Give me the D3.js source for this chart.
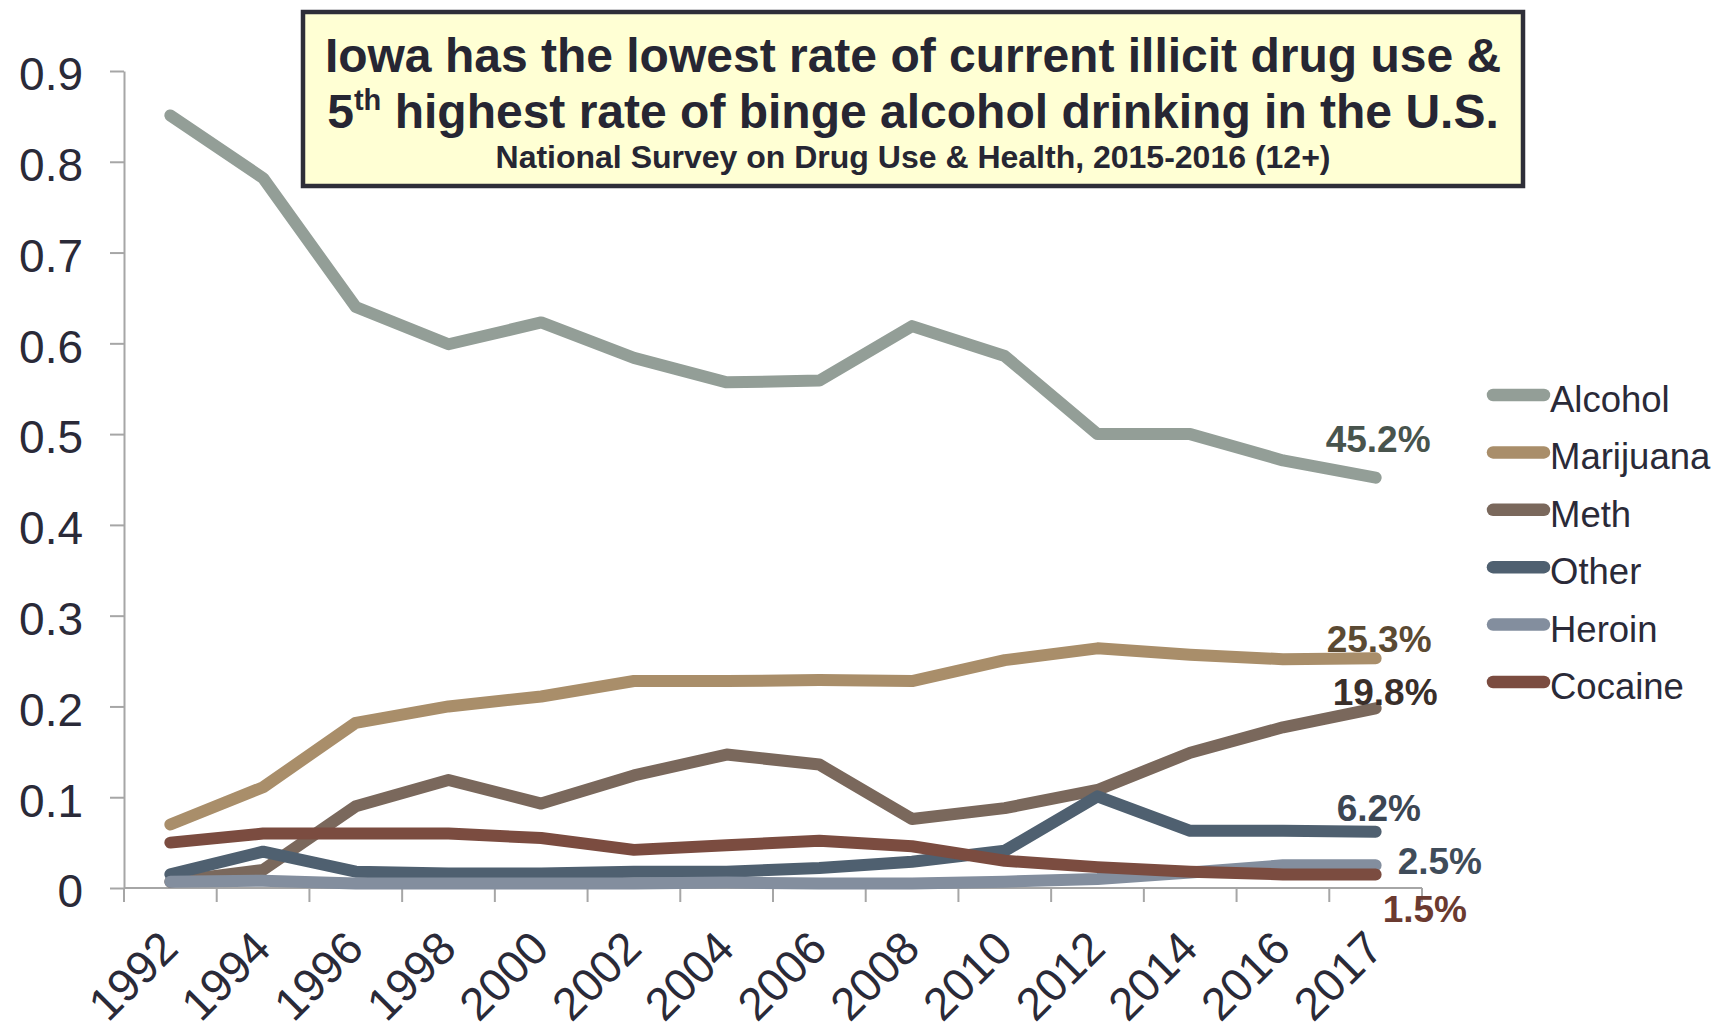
<!DOCTYPE html>
<html>
<head>
<meta charset="utf-8">
<script src="https://cdn.jsdelivr.net/npm/d3@7"></script>
<style>
  body { margin: 0; background: #fff; }
  text { font-family: "Liberation Sans", Arial, sans-serif; }
</style>
</head>
<body>
<script>
/** Data */
const years = ["1992", "1994", "1996", "1998", "2000", "2002", "2004", "2006", "2008", "2010", "2012", "2014", "2016", "2017"];
const seriesNames = ["Alcohol", "Marijuana", "Meth", "Other", "Heroin", "Cocaine"];
const alcohol   = [0.851, 0.782, 0.640, 0.599, 0.623, 0.584, 0.557, 0.559, 0.619, 0.586, 0.500, 0.500, 0.471, 0.452];
const marijuana = [0.070, 0.111, 0.182, 0.200, 0.211, 0.228, 0.228, 0.229, 0.228, 0.251, 0.264, 0.257, 0.252, 0.253];
const meth      = [0.007, 0.020, 0.090, 0.119, 0.093, 0.124, 0.147, 0.136, 0.076, 0.088, 0.108, 0.149, 0.177, 0.198];
const other     = [0.015, 0.040, 0.018, 0.016, 0.016, 0.018, 0.018, 0.022, 0.029, 0.041, 0.101, 0.063, 0.063, 0.062];
const heroin    = [0.007, 0.008, 0.005, 0.005, 0.005, 0.005, 0.006, 0.005, 0.005, 0.007, 0.010, 0.017, 0.025, 0.025];
const cocaine   = [0.050, 0.060, 0.060, 0.060, 0.055, 0.042, 0.047, 0.052, 0.046, 0.030, 0.023, 0.018, 0.015, 0.015];
const endLabels = ["45.2%", "25.3%", "19.8%", "6.2%", "2.5%", "1.5%"];
const yTicks = [0, 0.1, 0.2, 0.3, 0.4, 0.5, 0.6, 0.7, 0.8, 0.9];

/** Styles */
const width = 1715;
const height = 1027;
const lineColors = ["#939e97", "#a98e6a", "#7a685c", "#4f6070", "#838e9e", "#7b4c40"];
const labelColors = ["#48544d", "#5b4a33", "#3a2f2a", "#3c4653", "#3f4c5a", "#6b3a30"];
// label offset from the last point (x, baseline y)
const labelOffsets = [[-50, -26], [-49, -6], [-43, -3], [-39, -11], [22, 9], [7, 48]];
const textColor = "#2a2a38";
const axisColor = "#a6a6a6";

const values = [alcohol, marijuana, meth, other, heroin, cocaine];

const svg = d3.select("body").append("svg")
  .attr("width", width)
  .attr("height", height);

svg.append("rect").attr("width", width).attr("height", height).attr("fill", "#fff");

const x = d3.scaleBand().domain(years).range([124, 1422]).padding(0);
const y = d3.scaleLinear().domain([0, 0.9]).range([888, 71]);
const cx = (yr) => x(yr) + x.bandwidth() / 2;

// y axis
const yAxis = svg.append("g")
  .attr("transform", "translate(124,0)")
  .call(d3.axisLeft(y).tickValues(yTicks).tickSize(14).tickSizeOuter(0).tickPadding(27)
    .tickFormat(d => d === 0 ? "0" : d.toFixed(1)));
yAxis.select(".domain").attr("stroke", axisColor).attr("stroke-width", 2);
yAxis.selectAll(".tick line").attr("stroke", axisColor).attr("stroke-width", 2);
yAxis.selectAll(".tick text")
  .attr("fill", textColor)
  .attr("font-size", "46px")
  .attr("font-family", "Liberation Sans, Arial, sans-serif")
  .attr("dy", "0.41em");

// x axis (ticks between categories)
const xAxis = svg.append("g");
xAxis.append("line")
  .attr("x1", x.range()[0]).attr("x2", x.range()[1])
  .attr("y1", y(0)).attr("y2", y(0))
  .attr("stroke", axisColor).attr("stroke-width", 2);
const tickPos = years.map(yr => x(yr)).concat([x.range()[1]]);
xAxis.selectAll("line.tk")
  .data(tickPos)
  .enter().append("line")
  .attr("class", "tk")
  .attr("x1", d => d).attr("x2", d => d)
  .attr("y1", y(0)).attr("y2", y(0) + 14)
  .attr("stroke", axisColor).attr("stroke-width", 2);
xAxis.selectAll("text")
  .data(years)
  .enter().append("text")
  .attr("transform", d => "translate(" + (cx(d) + 10) + "," + (y(0) + 63) + ") rotate(-45)")
  .attr("text-anchor", "end")
  .attr("font-size", "46px")
  .attr("fill", textColor)
  .text(d => d);

// series lines
const line = d3.line()
  .x((d, i) => cx(years[i]))
  .y(d => y(d));

svg.append("g").selectAll("path")
  .data(values)
  .enter().append("path")
  .attr("d", d => line(d))
  .attr("fill", "none")
  .attr("stroke", (d, i) => lineColors[i])
  .attr("stroke-width", 12)
  .attr("stroke-linecap", "round")
  .attr("stroke-linejoin", "round");

// end labels
const last = years[years.length - 1];
svg.append("g").selectAll("text")
  .data(values)
  .enter().append("text")
  .attr("x", (d, i) => cx(last) + labelOffsets[i][0])
  .attr("y", (d, i) => y(d[d.length - 1]) + labelOffsets[i][1])
  .attr("font-size", "37px")
  .attr("font-weight", "bold")
  .attr("fill", (d, i) => labelColors[i])
  .text((d, i) => endLabels[i]);

// legend
const legend = svg.append("g").attr("transform", "translate(1493,395)");
seriesNames.forEach((name, i) => {
  const g = legend.append("g").attr("transform", "translate(0," + (i * 57.4) + ")");
  g.append("line")
    .attr("x1", 0).attr("x2", 51)
    .attr("stroke", lineColors[i])
    .attr("stroke-width", 12.5)
    .attr("stroke-linecap", "round");
  g.append("text")
    .attr("x", 57).attr("y", 17)
    .attr("font-size", "36.5px")
    .attr("fill", textColor)
    .text(name);
});

// title box
const title = svg.append("g");
title.append("rect")
  .attr("x", 303).attr("y", 12)
  .attr("width", 1220).attr("height", 174)
  .attr("fill", "#ffffd4")
  .attr("stroke", "#2e2e38")
  .attr("stroke-width", 4.5);
title.append("text")
  .attr("x", 913).attr("y", 72)
  .attr("text-anchor", "middle")
  .attr("font-size", "48px").attr("font-weight", "bold")
  .attr("fill", "#262633")
  .text("Iowa has the lowest rate of current illicit drug use &");
const t2 = title.append("text")
  .attr("x", 913).attr("y", 128)
  .attr("text-anchor", "middle")
  .attr("font-size", "48px").attr("font-weight", "bold")
  .attr("fill", "#262633");
t2.append("tspan").text("5");
t2.append("tspan").attr("font-size", "29px").attr("dy", -18).text("th");
t2.append("tspan").attr("dy", 18).text(" highest rate of binge alcohol drinking in the U.S.");
title.append("text")
  .attr("x", 913).attr("y", 168)
  .attr("text-anchor", "middle")
  .attr("font-size", "32px").attr("font-weight", "bold")
  .attr("fill", "#262633")
  .text("National Survey on Drug Use & Health, 2015-2016 (12+)");
</script>
</body>
</html>
